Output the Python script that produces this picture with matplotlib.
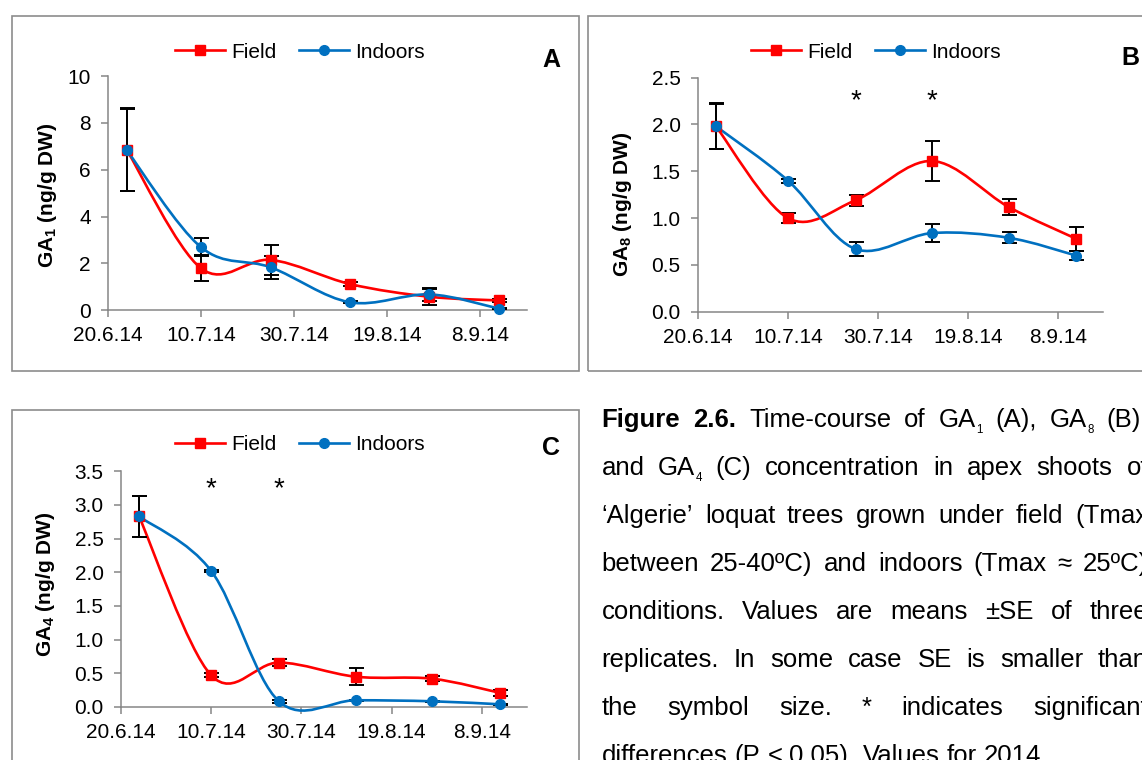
import numpy as np
import matplotlib
matplotlib.use("Agg")
import matplotlib.pyplot as plt
import matplotlib.dates as mdates
from matplotlib.path import Path
from matplotlib.patches import PathPatch, Rectangle
from matplotlib.lines import Line2D
from matplotlib.ticker import FormatStrFormatter
from datetime import date

plt.rcParams['font.family'] = ['Liberation Sans', 'DejaVu Sans']
plt.rcParams['mathtext.fontset'] = 'custom'
plt.rcParams['mathtext.rm'] = 'Liberation Sans'
plt.rcParams['mathtext.bf'] = 'Liberation Sans:bold'
plt.rcParams['mathtext.it'] = 'Liberation Sans:italic'

# sampling dates and axis ticks (2014)
sample_dates = ["2014-06-24", "2014-07-10", "2014-07-25", "2014-08-11", "2014-08-28", "2014-09-12"]
tick_dates = ["2014-06-20", "2014-07-10", "2014-07-30", "2014-08-19", "2014-09-08"]
tick_labels = ["20.6.14", "10.7.14", "30.7.14", "19.8.14", "8.9.14"]
x_start, x_end = "2014-06-20", "2014-09-18"

# panel A - GA1
ga1_field = [6.85, 1.79, 2.15, 1.12, 0.58, 0.42]
ga1_field_se = [1.77, 0.55, 0.63, 0.10, 0.35, 0.05]
ga1_indoor = [6.84, 2.69, 1.83, 0.34, 0.68, 0.07]
ga1_indoor_se = [1.75, 0.38, 0.50, 0.04, 0.28, 0.03]

# panel B - GA8
ga8_field = [1.98, 1.00, 1.19, 1.61, 1.12, 0.78]
ga8_field_se = [0.245, 0.055, 0.06, 0.21, 0.085, 0.13]
ga8_indoor = [1.98, 1.40, 0.67, 0.84, 0.79, 0.60]
ga8_indoor_se = [0.24, 0.02, 0.07, 0.095, 0.06, 0.05]
ga8_signif = [2, 3]

# panel C - GA4
ga4_field = [2.83, 0.47, 0.66, 0.45, 0.42, 0.21]
ga4_field_se = [0.31, 0.03, 0.05, 0.13, 0.04, 0.04]
ga4_indoor = [2.83, 2.02, 0.085, 0.10, 0.085, 0.04]
ga4_indoor_se = [0.30, 0.02, 0.02, 0.01, 0.01, 0.01]
ga4_signif = [1, 2]

# caption, "_" marks a subscript
caption_lines = [
    "Figure 2.6. Time-course of GA_1 (A), GA_8 (B),",
    "and GA_4 (C) concentration in apex shoots of",
    "\u2018Algerie\u2019 loquat trees grown under field (Tmax",
    "between 25-40\u00baC) and indoors (Tmax \u2248 25\u00baC)",
    "conditions. Values are means \u00b1SE of three",
    "replicates. In some case SE is smaller than",
    "the symbol size. * indicates significant",
    "differences (P < 0.05). Values for 2014.",
]

RED = '#FF0000'
BLUE = '#0070C0'
GRAY = '#868686'
W, H = 1142, 760

fig = plt.figure(figsize=(W / 100, H / 100), dpi=100)


def px_rect(l, t, r, b):
    return [l / W, 1 - b / H, (r - l) / W, (b - t) / H]


def smooth_path(x, y):
    # Catmull-Rom style bezier, like Excel's smoothed lines
    pts = np.column_stack([x, y]).astype(float)
    ext = np.vstack([pts[0], pts, pts[-1]])
    verts, codes = [pts[0]], [Path.MOVETO]
    for i in range(len(pts) - 1):
        p0, p1, p2, p3 = ext[i], ext[i + 1], ext[i + 2], ext[i + 3]
        verts += [p1 + (p2 - p0) / 6, p2 - (p3 - p1) / 6, p2]
        codes += [Path.CURVE4] * 3
    return Path(verts, codes)


xd = mdates.date2num([date.fromisoformat(d) for d in sample_dates])
xt = mdates.date2num([date.fromisoformat(d) for d in tick_dates])
x0 = mdates.date2num(date.fromisoformat(x_start))
x1 = mdates.date2num(date.fromisoformat(x_end))

FS = 15


def draw_panel(rect, field, field_se, indoor, indoor_se, ymax, ystep, fmt,
               ylabel, ylab_xy, letter, letter_xy, leg_xy, signif=None, star_y=None):
    ax = fig.add_axes(px_rect(*rect))
    for vals, se, col, mk, ms in [(field, field_se, RED, 's', 7.2), (indoor, indoor_se, BLUE, 'o', 7)]:
        ax.errorbar(xd, vals, yerr=se, fmt='none', ecolor='black', elinewidth=1.4,
                    capsize=5.4, capthick=1.4, zorder=3, clip_on=False)
        ax.add_patch(PathPatch(smooth_path(xd, vals), fill=False, edgecolor=col,
                               lw=1.9, zorder=3, clip_on=False))
        ax.plot(xd, vals, linestyle='none', marker=mk, markersize=ms, color=col,
                zorder=4, clip_on=False)
    ax.set_xlim(x0, x1)
    ax.set_ylim(0, ymax)
    ax.set_xticks(xt)
    ax.set_xticklabels(tick_labels)
    ax.set_yticks(np.arange(0, ymax + ystep / 2, ystep))
    ax.yaxis.set_major_formatter(FormatStrFormatter(fmt))
    for s in ['top', 'right']:
        ax.spines[s].set_visible(False)
    for s in ['left', 'bottom']:
        ax.spines[s].set_color(GRAY)
        ax.spines[s].set_linewidth(1.1)
    ax.tick_params(axis='both', direction='out', length=5, width=1.1, color=GRAY,
                   labelsize=FS, labelcolor='black')
    ax.tick_params(axis='y', pad=7.5)
    ax.tick_params(axis='x', pad=6.5)
    ax.patch.set_alpha(0)

    if signif is not None:
        for i in signif:
            ax.text(xd[i], star_y, '*', fontsize=20, ha='center', va='baseline')

    fig.text(ylab_xy[0] / W, 1 - ylab_xy[1] / H, ylabel, rotation=90, fontsize=FS,
             fontweight='bold', ha='center', va='center')
    fig.text(letter_xy[0] / W, 1 - letter_xy[1] / H, letter, fontsize=18,
             fontweight='bold', ha='center', va='baseline')

    handles = [Line2D([], [], color=RED, lw=1.9, marker='s', markersize=7.2),
               Line2D([], [], color=BLUE, lw=1.9, marker='o', markersize=7)]
    ax.legend(handles, ['Field', 'Indoors'], loc='center', ncol=2, frameon=False,
              bbox_to_anchor=(leg_xy[0] / W, 1 - leg_xy[1] / H), bbox_transform=fig.transFigure,
              fontsize=FS, handlelength=2.4, handletextpad=0.3, columnspacing=1.1,
              borderpad=0, borderaxespad=0)
    return ax


# panel frames
for l, t, r, b in [(12, 16, 579, 371), (588, 16, 1160, 371), (12, 410, 579, 780)]:
    fig.patches.append(Rectangle((l / W, 1 - b / H), (r - l) / W, (b - t) / H,
                                 transform=fig.transFigure, fill=False,
                                 edgecolor='#8c8c8c', lw=1.2))

draw_panel((108, 76, 527, 310.3), ga1_field, ga1_field_se, ga1_indoor, ga1_indoor_se,
           10, 2, '%d', r'GA$_\mathbf{1}$ (ng/g DW)', (48, 195), 'A', (551, 66.7), (300, 52))
draw_panel((698, 77.7, 1103, 311.7), ga8_field, ga8_field_se, ga8_indoor, ga8_indoor_se,
           2.5, 0.5, '%.1f', r'GA$_\mathbf{8}$ (ng/g DW)', (623, 204), 'B', (1130, 65), (876, 52),
           ga8_signif, 2.17)
draw_panel((121, 471.3, 527, 707), ga4_field, ga4_field_se, ga4_indoor, ga4_indoor_se,
           3.5, 0.5, '%.1f', r'GA$_\mathbf{4}$ (ng/g DW)', (46, 584), 'C', (551, 455), (300, 445),
           ga4_signif, 3.13)

# justified caption
cap_x0, cap_right, cap_y0, cap_dy, cap_fs = 601.5, 1148, 427, 48, 18.5
em = cap_fs * 100 / 72
fig.canvas.draw()
renderer = fig.canvas.get_renderer()
for i, line in enumerate(caption_lines):
    words = line.split(' ')
    y = 1 - (cap_y0 + i * cap_dy) / H
    ysub = 1 - (cap_y0 + i * cap_dy + 0.24 * em) / H
    groups = []
    for j, w in enumerate(words):
        weight = 'bold' if (i == 0 and j < 2) else 'normal'
        main, _, sub = w.partition('_')
        parts = [fig.text(0, y, main, fontsize=cap_fs, fontweight=weight,
                          ha='left', va='baseline')]
        if sub:
            parts.append(fig.text(0, ysub, sub, fontsize=cap_fs * 0.45,
                                  ha='left', va='baseline'))
        groups.append(parts)
    widths = [[t.get_window_extent(renderer).width for t in g] for g in groups]
    total = sum(sum(ws) for ws in widths)
    if i < len(caption_lines) - 1:
        gap = (cap_right - cap_x0 - total) / (len(words) - 1)
    else:
        gap = 0.278 * em
    x = cap_x0
    for g, ws in zip(groups, widths):
        for t, wd in zip(g, ws):
            t.set_x(x / W)
            x += wd
        x += gap

fig.savefig('out.png', dpi=100)
